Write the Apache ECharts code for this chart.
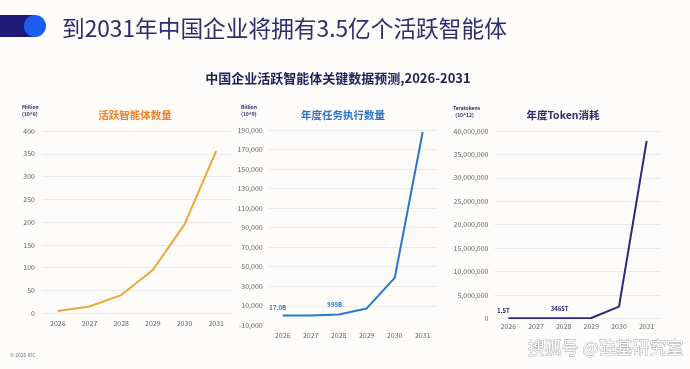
<!DOCTYPE html>
<html><head><meta charset="utf-8">
<script src="https://cdn.jsdelivr.net/npm/echarts@6/dist/echarts.min.js"></script>
<style>html,body{margin:0;padding:0;background:#fdfcfa;}#c{width:690px;height:369px;}</style>
</head><body><div id="c"></div>
<script>
const years = ['2026','2027','2028','2029','2030','2031'];
const agents = [5, 15, 40, 95, 195, 356];          // Million
const tasks = [17, 150, 999, 7300, 38500, 188000];  // Billion
const tokens = [1.5, 300, 3465, 60000, 2480000, 37900000]; // Teratokens
const taskLabels = {0: '17.0B', 2: '999B'};
const tokenLabels = {0: '1.5T', 2: '3465T'};
const labelShift = {0: [-5, -1], 2: [-4, -3]};

const FONT = '"Noto Sans CJK SC","Noto Sans",sans-serif';
const fmt = v => v.toLocaleString('en-US');
const chart = echarts.init(document.getElementById('c'));

function yAxis(i, min, max, interval, margin) {
  return {
    type: 'value', gridIndex: i, min: min, max: max, interval: interval,
    axisLine: {show: false}, axisTick: {show: false},
    splitLine: {lineStyle: {color: '#ebebeb', width: 1}, showMinLine: i !== 1},
    axisLabel: {color: '#666', fontSize: 7, fontFamily: FONT, margin: margin, formatter: v => fmt(v)}
  };
}
function xAxis(i, margin) {
  return {
    type: 'category', gridIndex: i, data: years, boundaryGap: true,
    axisLine: {show: false}, axisTick: {show: false},
    axisLabel: {color: '#666', fontSize: 7, fontFamily: FONT, margin: margin}
  };
}
function withLabels(vals, labels, color) {
  return vals.map((v, k) => labels[k] ? {value: v, label: {show: true, formatter: labels[k], color: color, fontSize: 6, fontWeight: 'bold', fontFamily: FONT, position: 'top', distance: 4, offset: labelShift[k]}} : v);
}

chart.setOption({
  backgroundColor: '#fdfcfa',
  animation: false,
  title: [
    {text: '到2031年中国企业将拥有3.5亿个活跃智能体', left: 57, top: 12,
     textStyle: {fontSize: 22.7, fontWeight: 'normal', color: '#2d2c6c', fontFamily: FONT}},
    {text: '中国企业活跃智能体关键数据预测,2026-2031', left: 333, top: 67, textAlign: 'center',
     textStyle: {fontSize: 13, fontWeight: 'bold', color: '#1f1f5c', fontFamily: FONT}},
    {text: '活跃智能体数量', left: 130, top: 105, textAlign: 'center',
     textStyle: {fontSize: 10.5, fontWeight: 'bold', color: '#f08426', fontFamily: FONT}},
    {text: '年度任务执行数量', left: 338, top: 105, textAlign: 'center',
     textStyle: {fontSize: 10.5, fontWeight: 'bold', color: '#2a74c9', fontFamily: FONT}},
    {text: '年度Token消耗', left: 558, top: 105, textAlign: 'center',
     textStyle: {fontSize: 10.5, fontWeight: 'bold', color: '#2b2a72', fontFamily: FONT}}
  ],
  graphic: [
    {type: 'rect', shape: {x: 0, y: 15, width: 36, height: 22}, style: {fill: '#1e1b78'}},
    {type: 'circle', shape: {cx: 35, cy: 26, r: 11}, style: {fill: '#1d5cf0'}},
    {type: 'text', left: 22, top: 104, style: {text: 'Million\n(10^6)', fill: '#2b2a72', font: 'bold 5px ' + FONT, lineHeight: 7}},
    {type: 'text', left: 241, top: 104, style: {text: 'Billion\n(10^9)', fill: '#2b2a72', font: 'bold 5px ' + FONT, lineHeight: 7}},
    {type: 'text', left: 453, top: 105, style: {text: 'Teratokens\n  (10^12)', fill: '#2b2a72', font: 'bold 5px ' + FONT, lineHeight: 7}},
    {type: 'text', left: 10, top: 353, style: {text: '© 2026 IDC', fill: '#777', font: '5px ' + FONT}},
    {type: 'text', right: 6, top: 339, style: {text: '搜狐号 @硅基研究室', fill: '#ffffff', font: '17px ' + FONT, stroke: '#a0a0a0', lineWidth: 0.8}}
  ],
  grid: [
    {left: 42, width: 190, top: 131, height: 182.3},
    {left: 268.7, width: 168, top: 130, height: 195.3},
    {left: 494.5, width: 166, top: 131, height: 187.3}
  ],
  xAxis: [xAxis(0, 7), xAxis(1, 6.5), xAxis(2, 5)],
  yAxis: [yAxis(0, 0, 400, 50, 7), yAxis(1, -10000, 190000, 20000, 6), yAxis(2, 0, 40000000, 5000000, 6)],
  series: [
    {type: 'line', xAxisIndex: 0, yAxisIndex: 0, data: agents, showSymbol: false,
     lineStyle: {color: '#e8a83a', width: 2}},
    {type: 'line', xAxisIndex: 1, yAxisIndex: 1, data: withLabels(tasks, taskLabels, '#2a74c9'),
     showSymbol: true, symbol: 'circle', symbolSize: 0.01, itemStyle: {color: '#2a78c8'},
     lineStyle: {color: '#2a78c8', width: 2}},
    {type: 'line', xAxisIndex: 2, yAxisIndex: 2, data: withLabels(tokens, tokenLabels, '#2b2a72'),
     showSymbol: true, symbol: 'circle', symbolSize: 0.01, itemStyle: {color: '#2c2a78'},
     lineStyle: {color: '#2c2a78', width: 2}}
  ]
});
</script></body></html>
